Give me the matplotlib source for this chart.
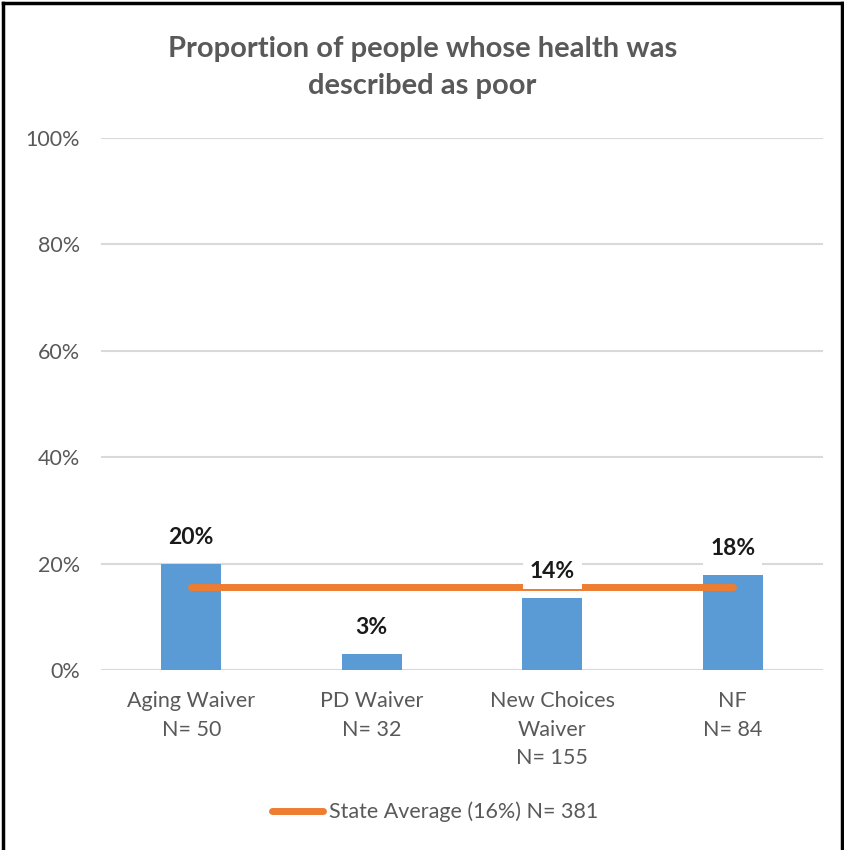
import numpy as np
import matplotlib.pyplot as plt
from matplotlib.lines import Line2D

# Dados
categorias = ['Aging Waiver\nN= 50', 'PD Waiver\nN= 32', 'New Choices\nWaiver\nN= 155', 'NF\nN= 84']
valores = [20, 3, 13.6, 17.9]
rotulos = ['20%', '3%', '14%', '18%']
media_estado = 15.6
legenda = 'State Average (16%) N= 381'
titulo = 'Proportion of people whose health was\ndescribed as poor'

plt.rcParams['font.family'] = ['Lato', 'DejaVu Sans']

fig = plt.figure(figsize=(8.45, 8.5), dpi=100)
ax = fig.add_axes([0.1195, 0.2118, 0.8545, 0.6259])

x = np.arange(len(categorias))
ax.bar(x, valores, width=0.33, color='#5B9BD5', zorder=2)
linha, = ax.plot([x[0], x[-1]], [media_estado, media_estado], color='#ED7D31',
                 lw=5, solid_capstyle='round', zorder=3)

# Rótulos de dados com fundo branco
for xi, v, r in zip(x, valores, rotulos):
    ax.annotate(r, (xi, v), xytext=(0, 19), textcoords='offset points',
                ha='center', va='center', fontsize=16.5, fontweight='bold', color='#1a1a1a',
                bbox=dict(boxstyle='square,pad=0.3', fc='white', ec='none'), zorder=4)

ax.set_xlim(-0.5, 3.5)
ax.set_ylim(0, 100)
ax.set_yticks(np.arange(0, 101, 20))
ax.set_yticklabels([f'{t}%' for t in range(0, 101, 20)])
ax.set_xticks(x)
ax.set_xticklabels(categorias, linespacing=1.55)
ax.tick_params(length=0, labelsize=15.5, colors='#595959')
ax.tick_params(axis='x', pad=15)
ax.tick_params(axis='y', pad=15)
ax.grid(axis='y', color='#D9D9D9', lw=1.5, zorder=0)
for s in ax.spines.values():
    s.set_visible(False)

fig.text(0.5, 0.9206, titulo, ha='center', va='center', fontsize=21, fontweight='bold',
         color='#595959', linespacing=1.5)

fig.legend([linha], [legenda], loc='center', bbox_to_anchor=(0.515, 0.045), frameon=False,
           fontsize=15.5, labelcolor='#595959', handlelength=2.4, handletextpad=0.28)

# Moldura
for xs, ys in [([0.004, 0.004], [0, 0.996]), ([0.004, 0.997], [0.996, 0.996]), ([0.997, 0.997], [0, 0.996])]:
    fig.add_artist(Line2D(xs, ys, color='black', lw=2.5, transform=fig.transFigure))

fig.savefig('out.png', dpi=100)
